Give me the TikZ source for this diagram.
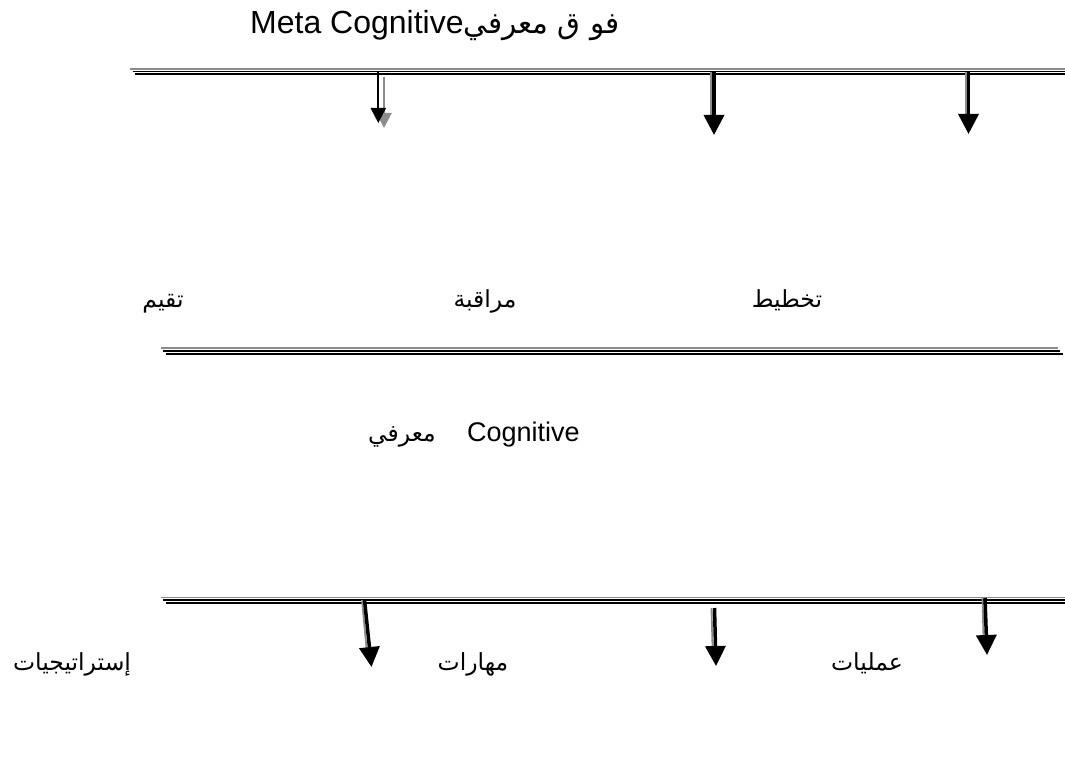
\documentclass[tikz,border=0pt]{standalone}
\usepackage{fontspec}
\setmainfont{Liberation Sans}
\newfontfamily\arabicfont[Script=Arabic]{DejaVu Sans}
\TeXXeTstate=1
\usetikzlibrary{arrows.meta}
\tikzset{
  rulegray/.style={draw=black!45, line width=1.6pt},
  ruleblack/.style={draw=black, line width=1.6pt},
  shaftblack/.style={draw=black, line width=3.5pt, -{Triangle[width=20pt,length=20pt]}},
  shaftthin/.style={draw=black, line width=2pt, -{Triangle[width=15pt,length=15pt]}},
  shaftthingray/.style={draw=black!45, line width=2pt, -{Triangle[width=15pt,length=15pt]}},
  shadow/.style={draw=black!45, line width=1.8pt},
  lbl/.style={font=\fontsize{27}{32}\selectfont, inner sep=0pt, anchor=base west},
  albl/.style={font=\arabicfont\fontsize{23.5}{30}\selectfont, inner sep=0pt, anchor=base},
}
\begin{document}
\begin{tikzpicture}[x=1pt,y=-1pt]
\useasboundingbox (0,0) rectangle (1065,757);
% ---- title
\node[lbl, font=\fontsize{32}{36}\selectfont] (title) at (250,34) {Meta Cognitive{\arabicfont\fontsize{29.5}{36}\selectfont\beginR فو ق معرفي\endR}};
% ---- top triple rule
\coordinate (t1a) at (130,69);   \coordinate (t1b) at (1065,69);
\coordinate (t2a) at (132.7,71.7); \coordinate (t2b) at (1065,71.7);
\coordinate (t3a) at (135.3,74.3); \coordinate (t3b) at (1065,74.3);
\draw[rulegray] (t1a) -- (t1b);
\draw[ruleblack] (t2a) -- (t2b);
\draw[ruleblack] (t3a) -- (t3b);
% ---- top arrows
\coordinate (a1s) at (378.3,72); \coordinate (a1e) at (378.3,123);
\coordinate (a1gs) at (384,77); \coordinate (a1ge) at (384,128);
\draw[shaftthingray] (a1gs) -- (a1ge);
\draw[shaftthin] (a1s) -- (a1e);
\coordinate (a2s) at (714,72); \coordinate (a2e) at (714,135);
\coordinate (a2g) at (711,72); \coordinate (a2gh) at (711,116);
\draw[shadow] (a2g) -- (a2gh);
\draw[shaftblack] (a2s) -- (a2e);
\coordinate (a3s) at (968.5,72); \coordinate (a3e) at (968.5,134);
\coordinate (a3g) at (966,72); \coordinate (a3gh) at (966,115);
\draw[shadow] (a3g) -- (a3gh);
\draw[shaftblack] (a3s) -- (a3e);
% ---- labels row 1
\node[albl] (taqim) at (163,307) {\beginR تقيم\endR};
\node[albl] (muraqaba) at (485,307) {\beginR مراقبة\endR};
\node[albl] (takhtit) at (787,307) {\beginR تخطيط\endR};
% ---- middle triple rule
\coordinate (m1a) at (160.7,348); \coordinate (m1b) at (1057.7,348);
\coordinate (m2a) at (163,350.7); \coordinate (m2b) at (1060,350.7);
\coordinate (m3a) at (166,353.7); \coordinate (m3b) at (1063,353.7);
\draw[rulegray] (m1a) -- (m1b);
\draw[ruleblack] (m2a) -- (m2b);
\draw[ruleblack] (m3a) -- (m3b);
% ---- cognitive
\node[albl, anchor=base east] (marifi) at (436,441) {\beginR معرفي\endR};
\node[lbl] (cog) at (467,441) {Cognitive};
% ---- bottom triple rule
\coordinate (b1a) at (160.7,597.3); \coordinate (b1b) at (1065,597.3);
\coordinate (b2a) at (163,600); \coordinate (b2b) at (1065,600);
\coordinate (b3a) at (166,602.7); \coordinate (b3b) at (1065,602.7);
\draw[rulegray] (b1a) -- (b1b);
\draw[ruleblack] (b2a) -- (b2b);
\draw[ruleblack] (b3a) -- (b3b);
% ---- bottom arrows
\coordinate (c1s) at (364.5,600); \coordinate (c1e) at (371.5,667);
\coordinate (c1g) at (362,600); \coordinate (c1gh) at (366.5,648);
\draw[shadow] (c1g) -- (c1gh);
\draw[shaftblack] (c1s) -- (c1e);
\coordinate (c2s) at (714.5,608); \coordinate (c2e) at (716,666);
\coordinate (c2g) at (711.5,608); \coordinate (c2gh) at (712.5,646);
\draw[shadow] (c2g) -- (c2gh);
\draw[shaftblack] (c2s) -- (c2e);
\coordinate (c3s) at (985,598); \coordinate (c3e) at (987,655);
\coordinate (c3g) at (982.5,598); \coordinate (c3gh) at (983.5,637);
\draw[shadow] (c3g) -- (c3gh);
\draw[shaftblack] (c3s) -- (c3e);
% ---- labels row 2
\node[albl] (istr) at (72,670) {\beginR إستراتيجيات\endR};
\node[albl] (mahar) at (473,670) {\beginR مهارات\endR};
\node[albl] (amal) at (867,670) {\beginR عمليات\endR};
\end{tikzpicture}
\end{document}
